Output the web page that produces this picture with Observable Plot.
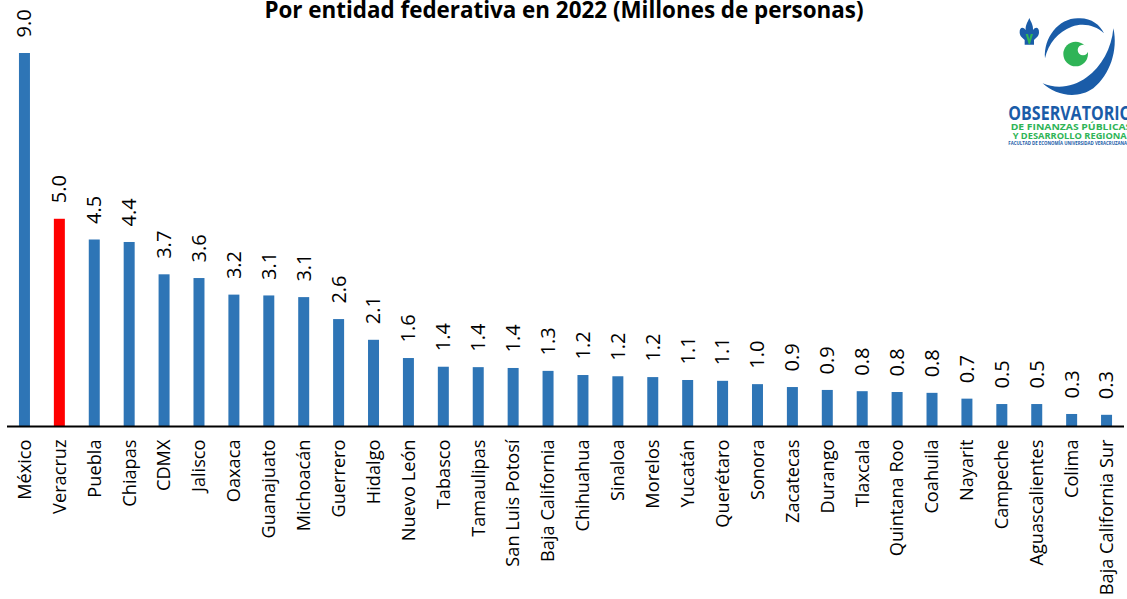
<!DOCTYPE html>
<html lang="es">
<head>
<meta charset="utf-8">
<script src="https://cdn.jsdelivr.net/npm/d3@7"></script>
<script src="https://cdn.jsdelivr.net/npm/@observablehq/plot@0.6"></script>
<style>
html,body{margin:0;padding:0;background:#fff;overflow:hidden;width:1127px;height:599px}
#wrap{position:relative;width:1127px;height:599px}
#title{position:absolute;left:0;top:0;width:1127px;line-height:20px;text-align:center;padding-left:1px;box-sizing:border-box;font-family:"Open Sans",sans-serif;font-weight:bold;font-size:22.4px;color:#000;white-space:nowrap}
#logo{position:absolute;left:960px;top:0}
</style>
</head>
<body>
<div id="wrap">
<div id="chart"></div>
<div id="title">Por entidad federativa en 2022 (Millones de personas)</div>
<svg id="logo" width="167" height="160" viewBox="0 0 501 480">
  <path fill="#1a5ca8" d="M255 175C250 110 300 50 360 55C395 55 420 75 432 100C405 75 370 68 335 80C295 95 265 130 255 175Z"/>
  <path fill="#1a5ca8" d="M460 85C475 150 450 225 400 265C350 300 285 285 248 250C290 268 340 262 380 232C425 200 455 145 460 85Z"/>
  <circle cx="347" cy="162" r="37" fill="#2fb457"/>
  <circle cx="369" cy="150" r="16" fill="#fff"/>
  <path fill="#1a5ca8" d="M208 54C214 68 220 76 219 90C228 78 238 84 237 98C236 110 228 112 222 120L222 134L194 134L194 120C188 112 180 110 179 98C178 84 188 78 197 90C196 76 202 68 208 54Z"/>
  <path fill="#2fb457" d="M197 102L204 102L208 118L212 102L219 102L210 132L206 132Z"/>
  <g font-family="'Open Sans',sans-serif" font-weight="700">
    <text x="145" y="360" font-size="56" fill="#1a5ca8" textLength="372" lengthAdjust="spacingAndGlyphs">OBSERVATORIO</text>
    <text x="152" y="390" font-size="28" fill="#2fb457" textLength="362" lengthAdjust="spacingAndGlyphs">DE FINANZAS PÚBLICAS</text>
    <text x="158" y="416" font-size="27" fill="#2fb457" textLength="358" lengthAdjust="spacingAndGlyphs">Y DESARROLLO REGIONAL</text>
    <text x="145" y="434" font-size="13" fill="#1a5ca8" textLength="356" lengthAdjust="spacingAndGlyphs">FACULTAD DE ECONOMÍA UNIVERSIDAD VERACRUZANA</text>
  </g>
</svg>
</div>
<script>
const estados = ["México","Veracruz","Puebla","Chiapas","CDMX","Jalisco","Oaxaca","Guanajuato","Michoacán","Guerrero","Hidalgo","Nuevo León","Tabasco","Tamaulipas","San Luis Potosí","Baja California","Chihuahua","Sinaloa","Morelos","Yucatán","Querétaro","Sonora","Zacatecas","Durango","Tlaxcala","Quintana Roo","Coahuila","Nayarit","Campeche","Aguascalientes","Colima","Baja California Sur"];
const valores = [9.0,5.0,4.5,4.44,3.66,3.57,3.17,3.15,3.11,2.58,2.08,1.64,1.43,1.42,1.40,1.33,1.23,1.2,1.18,1.11,1.09,1.01,0.94,0.87,0.84,0.82,0.8,0.66,0.53,0.53,0.29,0.27];
const resaltado = "Veracruz";
const datos = estados.map((estado, i) => ({estado, valor: valores[i]}));

const chart = Plot.plot({
  width: 1127,
  height: 599,
  marginLeft: 7,
  marginRight: 3,
  marginTop: 53,
  marginBottom: 173,
  style: {background: "#fff", fontFamily: "'Open Sans',sans-serif"},
  x: {domain: estados, round: false, paddingInner: 0.685, paddingOuter: 0.3425, label: null},
  y: {domain: [0, 9.0], axis: null},
  marks: [
    Plot.barY(datos, {x: "estado", y: "valor", fill: d => d.estado === resaltado ? "#ff0000" : "#2e75b6"}),
    Plot.ruleY([0], {stroke: "#000", strokeWidth: 2}),
    Plot.axisX({tickSize: 0, tickRotate: -90, tickPadding: 13, fontSize: 18.2, fill: "#000", label: null}),
    Plot.text(datos, {x: "estado", y: "valor", text: d => d.valor.toFixed(1), rotate: -90, textAnchor: "start", dy: -16, fontSize: 20, fill: "#000"})
  ]
});
document.getElementById("chart").appendChild(chart);
</script>
</body>
</html>
